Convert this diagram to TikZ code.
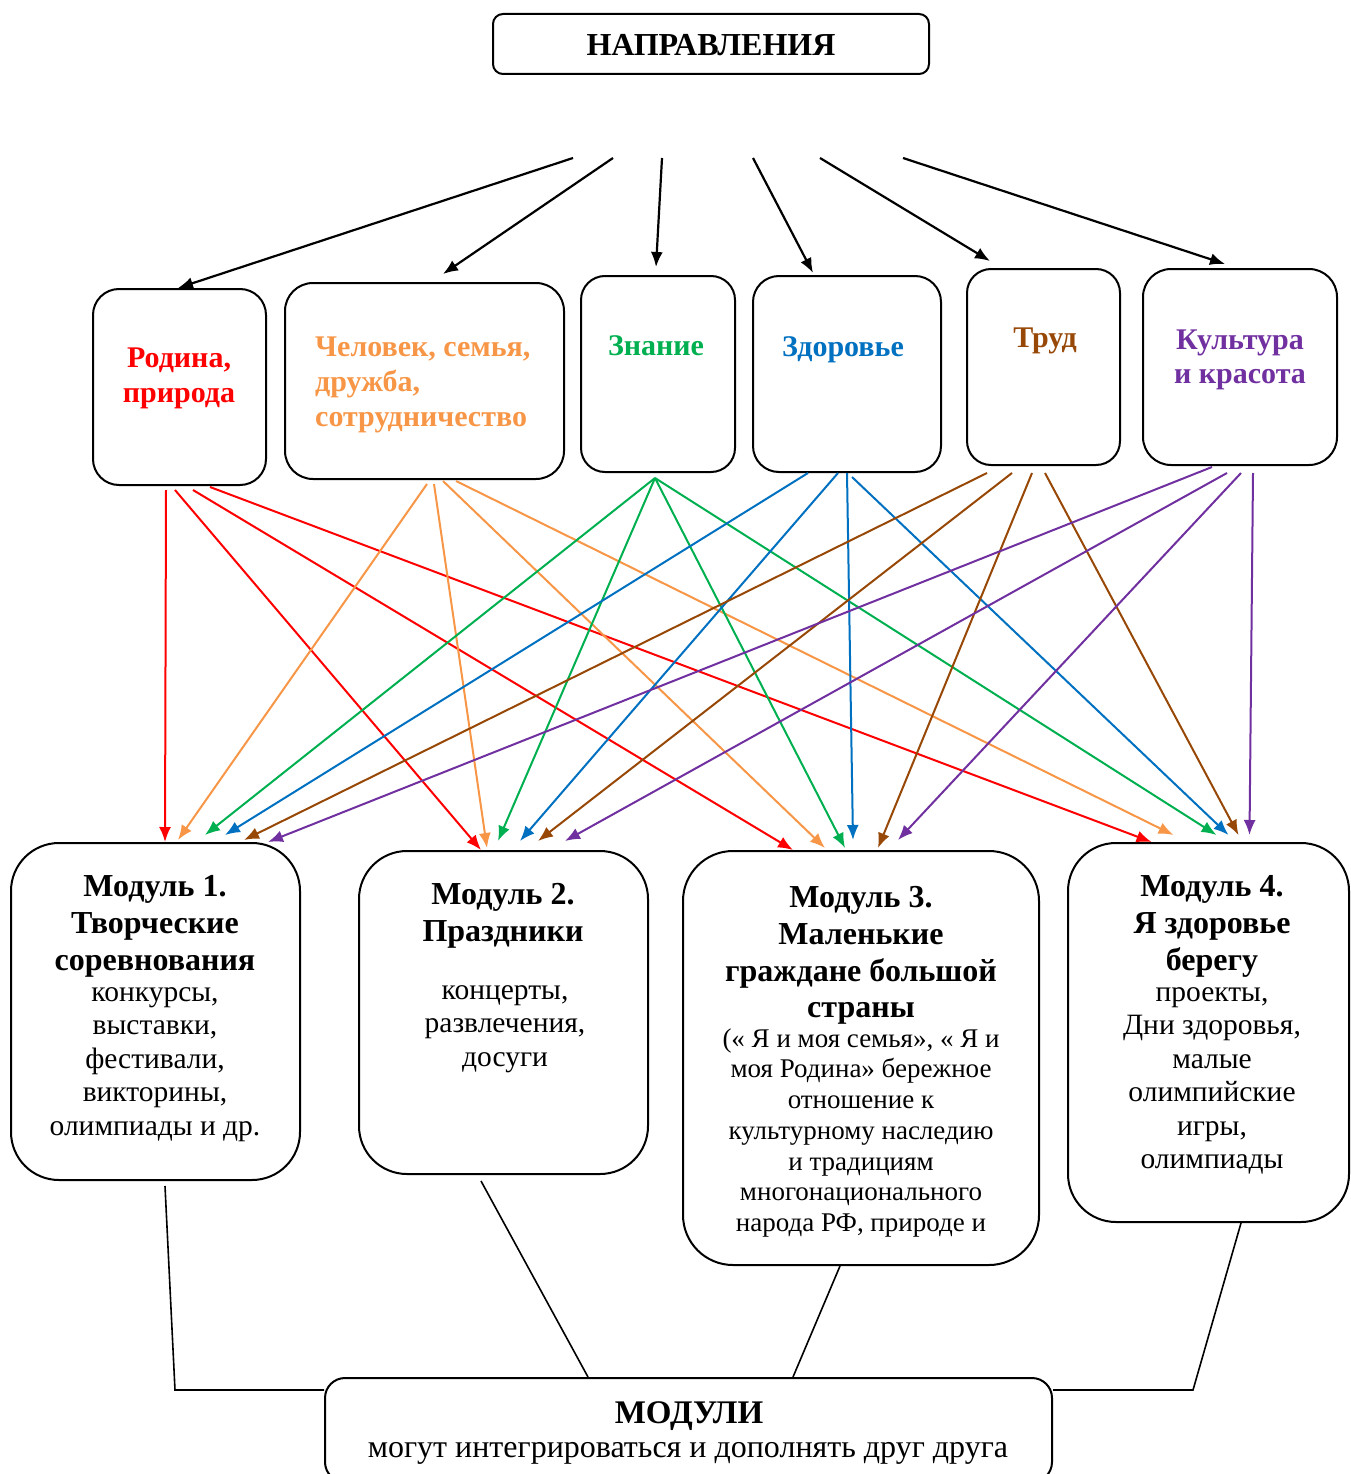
\documentclass[tikz,border=0pt]{standalone}
\usepackage{fontspec}
\setmainfont{Liberation Serif}
\usetikzlibrary{arrows.meta}
\definecolor{cR}{HTML}{FF0000}
\definecolor{cO}{HTML}{F79646}
\definecolor{cG}{HTML}{00B050}
\definecolor{cB}{HTML}{0070C0}
\definecolor{cBr}{HTML}{974806}
\definecolor{cP}{HTML}{7030A0}
\newcommand\fsz[2]{\fontsize{#1pt}{#2pt}\selectfont}
\begin{document}
\begin{tikzpicture}[x=1pt,y=-1pt,
  box/.style={draw=black, line width=2pt, inner sep=0pt},
  txt/.style={inner sep=0pt, align=center},
  ar/.style={line width=2pt, -{Latex[length=15pt,width=12pt]}},
  ln/.style={line width=1.6pt, draw=black},
  dirt/.style={txt, font=\bfseries\fsz{30}{35}},
  mtit/.style={txt, font=\bfseries\fsz{32}{36.6}},
  mbod/.style={txt, font=\fsz{29.5}{33.5}},
]
\useasboundingbox (0,0) rectangle (1350,1474);

% boxes
\node[box, rounded corners=10pt, minimum width=436pt, minimum height=60pt] (nap) at (711,44) {};
\node[box, rounded corners=26pt, minimum width=173pt, minimum height=196pt] (rod) at (179.5,387) {};
\node[box, rounded corners=28pt, minimum width=279pt, minimum height=196pt] (chel) at (424.5,381) {};
\node[box, rounded corners=24pt, minimum width=154pt, minimum height=196pt] (zn) at (658,374) {};
\node[box, rounded corners=26pt, minimum width=188pt, minimum height=196pt] (zd) at (847,374) {};
\node[box, rounded corners=24pt, minimum width=153pt, minimum height=196pt] (tr) at (1043.5,367) {};
\node[box, rounded corners=28pt, minimum width=194pt, minimum height=196pt] (ku) at (1240,367) {};

\node[box, rounded corners=48pt, minimum width=289pt, minimum height=337pt] (m1) at (155.5,1011.5) {};
\node[box, rounded corners=48pt, minimum width=289pt, minimum height=323pt] (m2) at (503.5,1012.5) {};
\node[box, rounded corners=50pt, minimum width=356pt, minimum height=414pt] (m3) at (861,1058) {};
\node[box, rounded corners=48pt, minimum width=281pt, minimum height=379pt] (m4) at (1208.5,1032.5) {};
\node[box, rounded corners=20pt, minimum width=727pt, minimum height=104pt] (bot) at (688.5,1430) {};

% texts
\node[txt, font=\bfseries\fsz{32}{36}, anchor=base] (napt) at (711,56) {НАПРАВЛЕНИЯ};
\node[dirt, text=cR, anchor=north] (rodt) at (179,342.5) {\strut Родина,\\природа};
\node[dirt, text=cO, anchor=north west, align=left] (chelt) at (315,331.5) {\strut Человек, семья,\\дружба,\\сотрудничество};
\node[dirt, text=cG, anchor=north] (znt) at (656,330.5) {\strut Знание};
\node[dirt, text=cB, anchor=north] (zdt) at (843,331.5) {\strut Здоровье};
\node[dirt, text=cBr, anchor=north] (trt) at (1045,322.5) {\strut Труд};
\node[dirt, text=cP, anchor=north, font=\bfseries\fsz{30}{34}] (kut) at (1240,325) {\strut Культура\\и красота};

\node[mtit, anchor=north] (m1t) at (155,871) {\strut Модуль 1.\\Творческие\\соревнования};
\node[mbod, anchor=north] (m1b) at (155,977.5) {\strut конкурсы,\\выставки,\\фестивали,\\викторины,\\олимпиады и др.};

\node[mtit, anchor=north] (m2t) at (503,879) {\strut Модуль 2.\\Праздники};
\node[mbod, anchor=north] (m2b) at (505,975.5) {\strut концерты,\\развлечения,\\досуги};

\node[mtit, anchor=north] (m3t) at (861,882) {\strut Модуль 3.\\Маленькие\\граждане большой\\страны};
\node[txt, anchor=north, font=\fsz{27}{30.7}] (m3b) at (861,1025.5) {\strut(« Я и моя семья», « Я и\\моя Родина» бережное\\отношение к\\культурному наследию\\и традициям\\многонационального\\народа РФ, природе и};

\node[mtit, anchor=north] (m4t) at (1212,871) {\strut Модуль 4.\\Я здоровье\\берегу};
\node[mbod, anchor=north] (m4b) at (1212,977.5) {\strut проекты,\\Дни здоровья,\\малые\\олимпийские\\игры,\\олимпиады};

\node[txt, anchor=base, font=\bfseries\fsz{33}{36}] (bott) at (689,1423) {МОДУЛИ};
\node[txt, anchor=base, font=\fsz{32}{34}] (botb) at (688,1457) {могут интегрироваться и дополнять друг друга};

% top arrows
\coordinate (t1) at (573,158);
\coordinate (t2) at (613,158);
\coordinate (t3) at (662,158);
\coordinate (t4) at (753,158);
\coordinate (t5) at (820,158);
\coordinate (t6) at (903,158);
\draw[ar, line width=2.2pt] (t1) -- ([shift={(-1.5,0)}]rod.north);
\draw[ar, line width=2.2pt] (t2) -- ([shift={(18.5,-8)}]chel.north);
\draw[ar, line width=2.2pt] (t3) -- ([shift={(-2,-8)}]zn.north);
\draw[ar, line width=2.2pt] (t4) -- ([shift={(-34,-2)}]zd.north);
\draw[ar, line width=2.2pt] (t5) -- ([shift={(-53.5,-7)}]tr.north);
\draw[ar, line width=2.2pt] (t6) -- ([shift={(-15,-4)}]ku.north);

% red
\draw[ar,cR] ([shift={(-13.5,4)}]rod.south) -- ([shift={(9.5,0)}]m1.north);
\draw[ar,cR] ([shift={(-4.5,4)}]rod.south) -- ([shift={(-22.5,0)}]m2.north);
\draw[ar,cR] ([shift={(13.5,4)}]rod.south) -- ([shift={(-68,0)}]m3.north);
\draw[ar,cR] ([shift={(30.5,1)}]rod.south) -- ([shift={(-57,0)}]m4.north);
% orange
\draw[ar,cO] ([shift={(2.5,4)}]chel.south) -- ([shift={(22.5,-2)}]m1.north);
\draw[ar,cO] ([shift={(9.5,4)}]chel.south) -- ([shift={(-16.5,-2)}]m2.north);
\draw[ar,cO] ([shift={(18.5,1)}]chel.south) -- ([shift={(-36,-2)}]m3.north);
\draw[ar,cO] ([shift={(31.5,1)}]chel.south) -- ([shift={(-35,-7)}]m4.north);
% green
\draw[ar,cG] ([shift={(-3,5)}]zn.south) -- ([shift={(49.5,-7)}]m1.north);
\draw[ar,cG] ([shift={(-3,5)}]zn.south) -- ([shift={(-5.5,-9)}]m2.north);
\draw[ar,cG] ([shift={(-3,5)}]zn.south) -- ([shift={(-16,-2)}]m3.north);
\draw[ar,cG] ([shift={(-3,5)}]zn.south) -- ([shift={(8,-7)}]m4.north);
% blue
\draw[ar,cB] ([shift={(-39,0)}]zd.south) -- ([shift={(69.5,-7)}]m1.north);
\draw[ar,cB] ([shift={(-9,0)}]zd.south) -- ([shift={(16.5,-9)}]m2.north);
\draw[ar,cB] ([shift={(0,0)}]zd.south) -- ([shift={(-8,-10)}]m3.north);
\draw[ar,cB] ([shift={(5,4)}]zd.south) -- ([shift={(20,-7)}]m4.north);
% brown
\draw[ar,cBr] ([shift={(-56.5,7)}]tr.south) -- ([shift={(88.5,-2)}]m1.north);
\draw[ar,cBr] ([shift={(-31.5,7)}]tr.south) -- ([shift={(34.5,-9)}]m2.north);
\draw[ar,cBr] ([shift={(-11.5,7)}]tr.south) -- ([shift={(17,-2)}]m3.north);
\draw[ar,cBr] ([shift={(1.5,7)}]tr.south) -- ([shift={(30,-7)}]m4.north);
% purple
\draw[ar,cP] ([shift={(-28,1)}]ku.south) -- ([shift={(112.5,0)}]m1.north);
\draw[ar,cP] ([shift={(-13,7)}]ku.south) -- ([shift={(61.5,-9)}]m2.north);
\draw[ar,cP] ([shift={(1,7)}]ku.south) -- ([shift={(37,-10)}]m3.north);
\draw[ar,cP] ([shift={(13,7)}]ku.south) -- ([shift={(41,-7)}]m4.north);

% bottom connectors
\draw[ln] ([shift={(9.5,5)}]m1.south) -- ([shift={(-149,-40)}]bot.west) -- ([shift={(0,-40)}]bot.west);
\draw[ln] ([shift={(-22.5,6)}]m2.south) -- ([shift={(-100.5,0)}]bot.north);
\draw[ln] ([shift={(-21,0)}]m3.south) -- ([shift={(104.5,0)}]bot.north);
\draw[ln] ([shift={(32.5,0)}]m4.south) -- ([shift={(140,-40)}]bot.east) -- ([shift={(0,-40)}]bot.east);
\end{tikzpicture}
\end{document}
